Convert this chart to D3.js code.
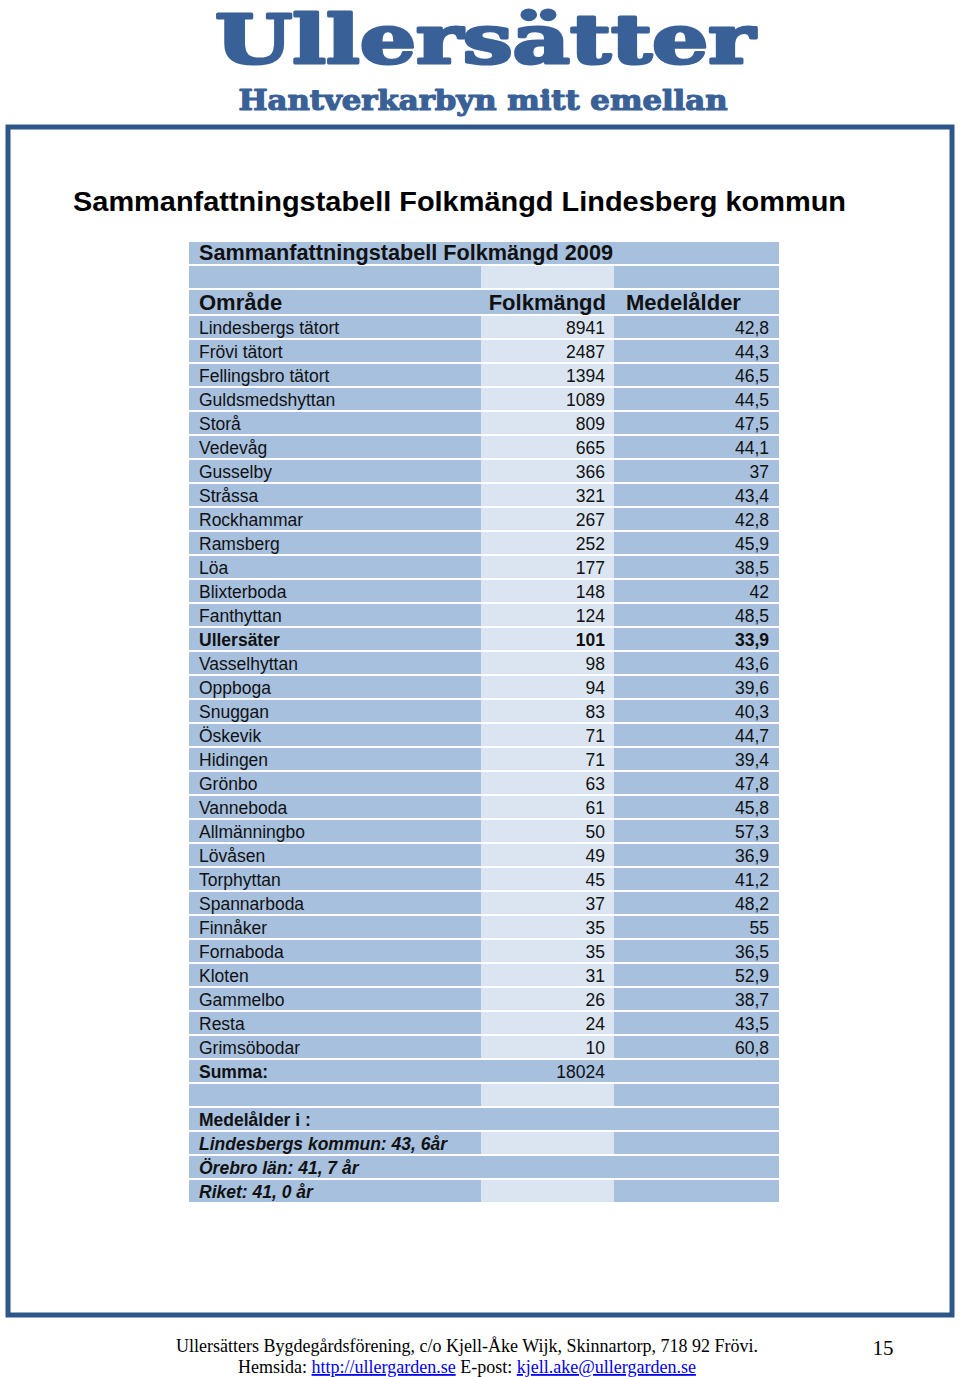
<!DOCTYPE html>
<html><head><meta charset="utf-8">
<script src="https://cdn.jsdelivr.net/npm/d3@7"></script>
<style>body{margin:0;background:#fff}svg{display:block}</style>
</head><body>
<script>
const areas = ["Lindesbergs tätort","Frövi tätort","Fellingsbro tätort","Guldsmedshyttan","Storå","Vedevåg","Gusselby","Stråssa","Rockhammar","Ramsberg","Löa","Blixterboda","Fanthyttan","Ullersäter","Vasselhyttan","Oppboga","Snuggan","Öskevik","Hidingen","Grönbo","Vanneboda","Allmänningbo","Lövåsen","Torphyttan","Spannarboda","Finnåker","Fornaboda","Kloten","Gammelbo","Resta","Grimsöbodar"];
const folkmangd = [8941,2487,1394,1089,809,665,366,321,267,252,177,148,124,101,98,94,83,71,71,63,61,50,49,45,37,35,35,31,26,24,10];
const medelalder = ["42,8","44,3","46,5","44,5","47,5","44,1","37","43,4","42,8","45,9","38,5","42","48,5","33,9","43,6","39,6","40,3","44,7","39,4","47,8","45,8","57,3","36,9","41,2","48,2","55","36,5","52,9","38,7","43,5","60,8"];
const highlightArea = "Ullersäter";
const summa = "18024";
const columnHeaders = ["Område","Folkmängd","Medelålder"];
const tableTitle = "Sammanfattningstabell Folkmängd 2009";
const notes = ["Medelålder i :","Lindesbergs kommun: 43, 6år","Örebro län: 41, 7 år","Riket: 41, 0 år"];

const W=960,H=1377;
const svg=d3.select("body").append("svg").attr("width",W).attr("height",H);
const MED="#a7c0de", LIGHT="#dbe5f1", BLUE="#3a6197", FRAME="#2d5689";
const sans="'Liberation Sans', Arial, sans-serif";

// Logo
svg.append("text").attr("x",485).attr("y",63).attr("text-anchor","middle")
  .attr("font-family","'DejaVu Serif', serif").attr("font-weight","bold").attr("font-size",67)
  .attr("textLength",540).attr("lengthAdjust","spacingAndGlyphs").attr("fill",BLUE)
  .attr("stroke",BLUE).attr("stroke-width",3).attr("stroke-linejoin","round").text("Ullersätter");
svg.append("text").attr("x",483).attr("y",110).attr("text-anchor","middle")
  .attr("font-family","'DejaVu Serif', serif").attr("font-weight","bold").attr("font-size",27)
  .attr("textLength",489).attr("lengthAdjust","spacingAndGlyphs").attr("fill",BLUE)
  .attr("stroke",BLUE).attr("stroke-width",1.2).attr("stroke-linejoin","round").text("Hantverkarbyn mitt emellan");

// Frame
svg.append("rect").attr("x",8).attr("y",127).attr("width",944).attr("height",1188)
  .attr("fill","none").attr("stroke",FRAME).attr("stroke-width",5);

// Page title
svg.append("text").attr("x",73).attr("y",211).attr("font-family",sans).attr("font-weight","bold")
  .attr("font-size",28.5).attr("textLength",773).attr("lengthAdjust","spacingAndGlyphs")
  .attr("fill","#000").text("Sammanfattningstabell Folkmängd Lindesberg kommun");

// Build rows
const rows=[];
rows.push({type:"title",c1:tableTitle,light:false});
rows.push({type:"empty",light:true});
rows.push({type:"header",c1:columnHeaders[0],c2:columnHeaders[1],c3:columnHeaders[2],light:false});
areas.forEach((a,i)=>rows.push({type:"data",c1:a,c2:String(folkmangd[i]),c3:medelalder[i],light:true,bold:a===highlightArea}));
rows.push({type:"sum",c1:"Summa:",c2:summa,light:false,bold:true});
rows.push({type:"empty",light:true});
rows.push({type:"note",c1:notes[0],light:false,bold:true});
rows.push({type:"note",c1:notes[1],light:true,bold:true,italic:true});
rows.push({type:"note",c1:notes[2],light:false,bold:true,italic:true});
rows.push({type:"note",c1:notes[3],light:true,bold:true,italic:true});

const rowTop=[];
let y=242;
rows.forEach(r=>{rowTop.push(y); y+= r.type==="header"?26:24;});
const yScale=d3.scaleOrdinal().domain(d3.range(rows.length)).range(rowTop);
const x=d3.scaleOrdinal().domain(["c1","c2","c3","end"]).range([189,481,616,779]);

const g=svg.append("g");
rows.forEach((r,i)=>{
  const top=yScale(i), h=(r.type==="header"?24:22);
  g.append("rect").attr("x",x("c1")).attr("y",top).attr("width",x("end")-x("c1")).attr("height",h).attr("fill",MED);
  if(r.light){
    g.append("rect").attr("x",x("c2")).attr("y",top).attr("width",x("c3")-x("c2")-2).attr("height",h).attr("fill",LIGHT);
  }
  const base=top+h-4;
  let fs=17.5, fw=r.bold?"bold":"normal", fst=r.italic?"italic":"normal";
  if(r.type==="title"){fs=21.5;fw="bold";}
  if(r.type==="header"){fs=22;fw="bold";}
  if(r.c1){
    const t=g.append("text").attr("x",x("c1")+10).attr("y",base).attr("font-family",sans)
     .attr("font-size",fs).attr("font-weight",fw).attr("font-style",fst).attr("fill","#111").text(r.c1);
    if(r.type==="title") t.attr("textLength",414).attr("lengthAdjust","spacingAndGlyphs");
  }
  if(r.type==="header"){
    g.append("text").attr("x",606).attr("y",base).attr("text-anchor","end").attr("font-family",sans)
      .attr("font-size",fs).attr("font-weight",fw).attr("fill","#111").text(r.c2);
    g.append("text").attr("x",626).attr("y",base).attr("font-family",sans)
      .attr("font-size",fs).attr("font-weight",fw).attr("fill","#111").text(r.c3);
  } else {
    if(r.c2) g.append("text").attr("x",605).attr("y",base).attr("text-anchor","end").attr("font-family",sans)
      .attr("font-size",fs).attr("font-weight",r.type==="sum"?"normal":fw).attr("fill","#111").text(r.c2);
    if(r.c3) g.append("text").attr("x",769).attr("y",base).attr("text-anchor","end").attr("font-family",sans)
      .attr("font-size",fs).attr("font-weight",fw).attr("fill","#111").text(r.c3);
  }
});

// Footer
const serif="'Liberation Serif', 'Times New Roman', serif";
svg.append("text").attr("x",467).attr("y",1352).attr("text-anchor","middle").attr("font-family",serif)
  .attr("font-size",18).attr("fill","#000").text("Ullersätters Bygdegårdsförening, c/o Kjell-Åke Wijk, Skinnartorp, 718 92 Frövi.");
const f2=svg.append("text").attr("x",467).attr("y",1373).attr("text-anchor","middle").attr("font-family",serif)
  .attr("font-size",18).attr("fill","#000");
f2.append("tspan").text("Hemsida: ");
f2.append("tspan").attr("fill","#0000ee").attr("text-decoration","underline").text("http://ullergarden.se");
f2.append("tspan").text(" E-post: ");
f2.append("tspan").attr("fill","#0000ee").attr("text-decoration","underline").text("kjell.ake@ullergarden.se");
svg.append("text").attr("x",883).attr("y",1355).attr("text-anchor","middle").attr("font-family",serif)
  .attr("font-size",21).attr("fill","#000").text("15");
</script>
</body></html>
